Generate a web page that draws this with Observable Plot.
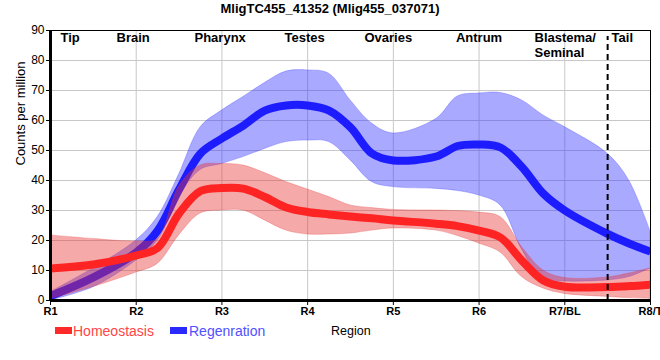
<!DOCTYPE html>
<html>
<head>
<meta charset="utf-8">
<script src="https://cdn.jsdelivr.net/npm/d3@7"></script>
<script src="https://cdn.jsdelivr.net/npm/@observablehq/plot@0.6"></script>
<style>
  body { margin: 0; background: white; font-family: "Liberation Sans", Arial, sans-serif; }
  #wrap { position: relative; width: 660px; height: 360px; overflow: hidden; }
  #title { position: absolute; left: 0; top: 1px; width: 660px; text-align: center; font-weight: bold; font-size: 13px; line-height: 16px; }
  #chart { position: absolute; left: 0; top: 18px; }
  .sw { position: absolute; height: 7px; width: 17px; top: 327px; }
  .lt { position: absolute; top: 323px; font-size: 14px; line-height: 16px; }
</style>
</head>
<body>
<div id="wrap">
  <div id="title">MligTC455_41352 (Mlig455_037071)</div>
  <div id="chart"></div>
  <div class="sw" style="left:55px;background:#ff2a2a"></div>
  <div class="lt" style="left:73px;color:#ff4545">Homeostasis</div>
  <div class="sw" style="left:170px;background:#2a2aff"></div>
  <div class="lt" style="left:189px;color:#5050ff">Regenration</div>
  <div class="lt" style="left:331px;color:#000;font-size:12.5px">Region</div>
</div>
<script>
const xLabels = ["R1", "R2", "R3", "R4", "R5", "R6", "R7/BL", "R8/T"];
const xTicks = [1, 2, 3, 4, 5, 6, 7, 8];
const yTicks = [0, 10, 20, 30, 40, 50, 60, 70, 80, 90];

const regionNames = ["Tip", "Brain", "Pharynx", "Testes", "Ovaries", "Antrum", "Blastema/\nSeminal", "Tail"];
const regionPos = [1.117, 1.77, 2.68, 3.73, 4.663, 5.73, 6.647, 7.546];
const boundary = [7.5];

const xs = [1, 1.5, 2, 2.25, 2.5, 2.75, 3, 3.25, 3.5, 3.75, 4, 4.25, 4.5, 4.75, 5, 5.5, 5.75, 6, 6.25, 6.5, 6.75, 7, 7.5, 7.75, 8];

const homeoMean = [10.7, 12, 15, 17.5, 29, 36.5, 37.5, 37.3, 34.5, 31, 29.5, 28.7, 28, 27.4, 26.7, 25.6, 24.8, 23.3, 21, 13.3, 6.7, 4.6, 4.5, 4.8, 5.3];
const homeoHigh = [21.7, 20.5, 19.7, 20.5, 38, 45, 45.5, 45, 42.5, 39.5, 37, 34.5, 31.7, 30.8, 30.2, 30, 29.8, 29.3, 27.8, 17.8, 10, 7.5, 7.7, 9, 10.7];
const homeoLow = [0.5, 4.5, 9.3, 12.2, 21.7, 29, 30, 30, 26.7, 23.3, 22, 22, 22.3, 23.3, 24, 23.3, 21.5, 19, 16, 7.8, 4, 2.2, 1.2, 0.8, 0.5];

const regenMean = [1.5, 7.7, 16, 23.3, 37, 49, 54, 58.3, 63.3, 65, 65, 63.3, 57.7, 49, 46.7, 48, 51.5, 52, 51, 44.5, 35.6, 30, 22.2, 19, 16.3];
const regenHigh = [2.8, 10.7, 20, 27.8, 42, 57.7, 63.3, 67.8, 72.5, 76.3, 76.7, 75.6, 66.7, 59, 55.7, 60.5, 68, 69, 69.2, 66.7, 61.7, 57.8, 48.9, 40, 23];
const regenLow = [0, 4.4, 13.3, 20, 34.5, 43.5, 45.5, 47.8, 50.5, 52.8, 53.3, 52.8, 46.7, 39.5, 37.8, 37.2, 36.5, 35, 31.7, 17, 6.7, 6.3, 6.7, 7.8, 10.7];

const homeo = xs.map((x, i) => ({x, m: homeoMean[i], lo: homeoLow[i], hi: homeoHigh[i]}));
const regen = xs.map((x, i) => ({x, m: regenMean[i], lo: regenLow[i], hi: regenHigh[i]}));
const regions = regionNames.map((name, i) => ({name, x: regionPos[i]}));

const curve = "catmull-rom";

const chart = Plot.plot({
  width: 660,
  height: 302,
  marginTop: 12,
  marginBottom: 20,
  marginLeft: 50,
  marginRight: 10,
  style: {fontFamily: "'Liberation Sans', Arial, sans-serif", fontSize: "12px", overflow: "visible", background: "transparent"},
  x: {domain: [1, 8]},
  y: {domain: [0, 90]},
  marks: [
    Plot.gridY(yTicks.slice(1, -1), {stroke: "#c8c8c8", strokeOpacity: 1}),
    Plot.gridX(xTicks.slice(1, -1), {stroke: "#c8c8c8", strokeOpacity: 1}),
    Plot.areaY(regen, {x: "x", y1: "lo", y2: "hi", fill: "#3333ff", fillOpacity: 0.42, stroke: "#3333ff", strokeOpacity: 0.35, strokeWidth: 0.8, curve, clip: true}),
    Plot.line(regen, {x: "x", y: "m", stroke: "#1c1cff", strokeWidth: 8, curve, clip: true, strokeLinecap: "butt"}),
    Plot.areaY(homeo, {x: "x", y1: "lo", y2: "hi", fill: "#e63232", fillOpacity: 0.42, stroke: "#e63232", strokeOpacity: 0.35, strokeWidth: 0.8, curve, clip: true}),
    Plot.line(homeo, {x: "x", y: "m", stroke: "#ff2424", strokeWidth: 8, curve, clip: true, strokeLinecap: "butt"}),
    Plot.ruleX(boundary, {y1: 0, y2: 90, stroke: "black", strokeWidth: 2, strokeDasharray: "6,4", insetBottom: -6}),
    Plot.frame({stroke: "black", strokeWidth: 1}),
    Plot.ruleY([0], {stroke: "black", strokeWidth: 3}),
    Plot.ruleX([1], {stroke: "black", strokeWidth: 3}),
    Plot.axisY({ticks: yTicks, tickSize: 4, tickPadding: 2, fontSize: 12, label: null}),
    Plot.axisX({ticks: xTicks, tickFormat: d => xLabels[d - 1], tickSize: 5, tickPadding: 2, fontSize: 11, fontWeight: "bold", label: null}),
    Plot.text(regions, {x: "x", y: 90, text: "name", textAnchor: "start", lineAnchor: "top", dy: 1, fontSize: 13, fontWeight: "bold", lineHeight: 1.15}),
    Plot.text(["Counts per million"], {frameAnchor: "left", rotate: -90, dx: -30, fontSize: 13})
  ]
});
document.getElementById("chart").appendChild(chart);
</script>
</body>
</html>
